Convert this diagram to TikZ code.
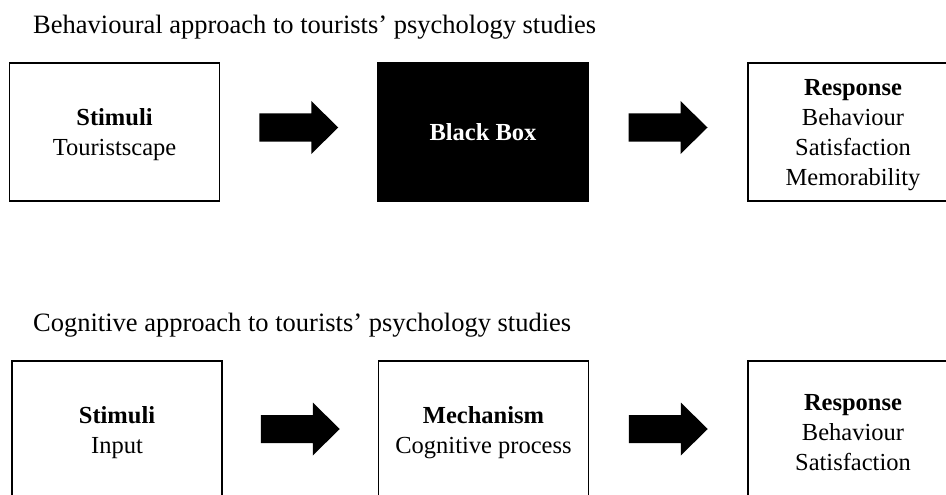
\documentclass[tikz,border=0pt]{standalone}
\usepackage{fontspec}
\setmainfont{Liberation Serif}
\usetikzlibrary{calc}

% Solid block arrow centred between two boxes: #1 = source, #2 = target, #3 = vertical offset
\newcommand{\flowarrow}[3]{%
  \fill[black] ($(#1.east)!0.5!(#2.west)+(0,#3)$) ++(-39.5,14) -- ++(52,0) -- ++(0,12.5)
    -- ++(27,-26.5) -- ++(-27,-26.5) -- ++(0,12.5) -- ++(-52,0) -- cycle;}
% Invisible strut that lowers the first line of a multi-line box label
\newcommand{\firststrut}{\rule{0pt}{22pt}}

\begin{document}
\begin{tikzpicture}[x=1pt,y=1pt,
  box/.style={draw=black, line width=1.6pt, minimum width=210pt, minimum height=138pt,
    inner sep=0pt, align=center, font=\fontsize{24.5}{30}\selectfont},
  blackbox/.style={box, fill=black, text=white},
  heading/.style={anchor=base west, inner sep=0pt, font=\fontsize{26.5}{32}\selectfont}]
\useasboundingbox (0,0) rectangle (946,-495);
\clip (0,0) rectangle (946,-495);
\fill[white] (0,0) rectangle (946,-495);

% Behavioural approach
\node[heading] (t1) at (33,-34) {Behavioural approach to tourists’ psychology studies};
\node[box] (b1) at (114.5,-132) {\firststrut\textbf{Stimuli}\\Touristscape};
\node[blackbox] (b2) at (483,-132) {\textbf{Black Box}};
\node[box] (b3) at (853,-132) {\firststrut\textbf{Response}\\Behaviour\\Satisfaction\\Memorability};
\flowarrow{b1}{b2}{4.5}
\flowarrow{b2}{b3}{4.5}

% Cognitive approach
\node[heading] (t2) at (33,-331) {Cognitive approach to tourists’ psychology studies};
\node[box] (c1) at (117,-430) {\firststrut\textbf{Stimuli}\\Input};
\node[box] (c2) at (483.5,-430) {\firststrut\textbf{Mechanism}\\Cognitive process};
\node[box] (c3) at (853,-430) {\firststrut\textbf{Response}\\Behaviour\\Satisfaction};
\flowarrow{c1}{c2}{1}
\flowarrow{c2}{c3}{1}
\end{tikzpicture}
\end{document}
